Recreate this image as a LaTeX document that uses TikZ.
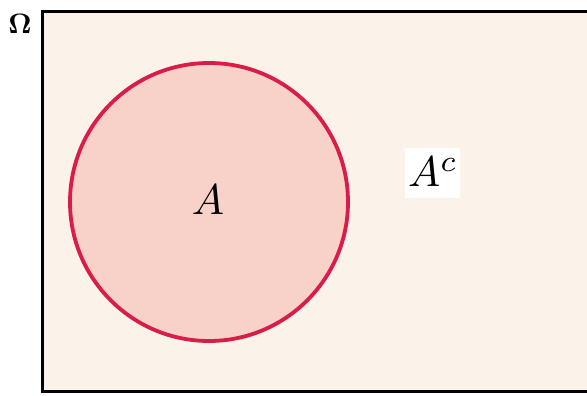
\documentclass[tikz,border=0pt]{standalone}
\definecolor{bgcream}{HTML}{FBF3EA}
\definecolor{setfill}{HTML}{F8D2C9}
\definecolor{setline}{HTML}{D91C48}
\begin{document}
\begin{tikzpicture}[x=1pt,y=-1pt,
  frame/.style={draw=black,line width=3pt,fill=bgcream},
  setcircle/.style={circle,draw=setline,fill=setfill,line width=3.8pt,minimum size=278pt,inner sep=0pt},
  biglabel/.style={inner sep=0pt,scale=4.3},
  whitebox/.style={fill=white,inner sep=0pt,minimum width=55pt,minimum height=50pt}]
\useasboundingbox (0,0) rectangle (587,396);
\fill[white] (0,0) rectangle (587,396);
\draw[frame] (42,12) rectangle (600,391);
\node[setcircle] (A) at (209,202) {};
\node[biglabel] (Alab) at (208,200) {$A$};
\node[whitebox] (Acbox) at (432.5,173) {};
\node[biglabel] (Aclab) at (433,172) {$A^{c}$};
\node[inner sep=0pt,scale=2.8] (Om) at (20,24) {$\mathbf{\Omega}$};
\end{tikzpicture}
\end{document}
